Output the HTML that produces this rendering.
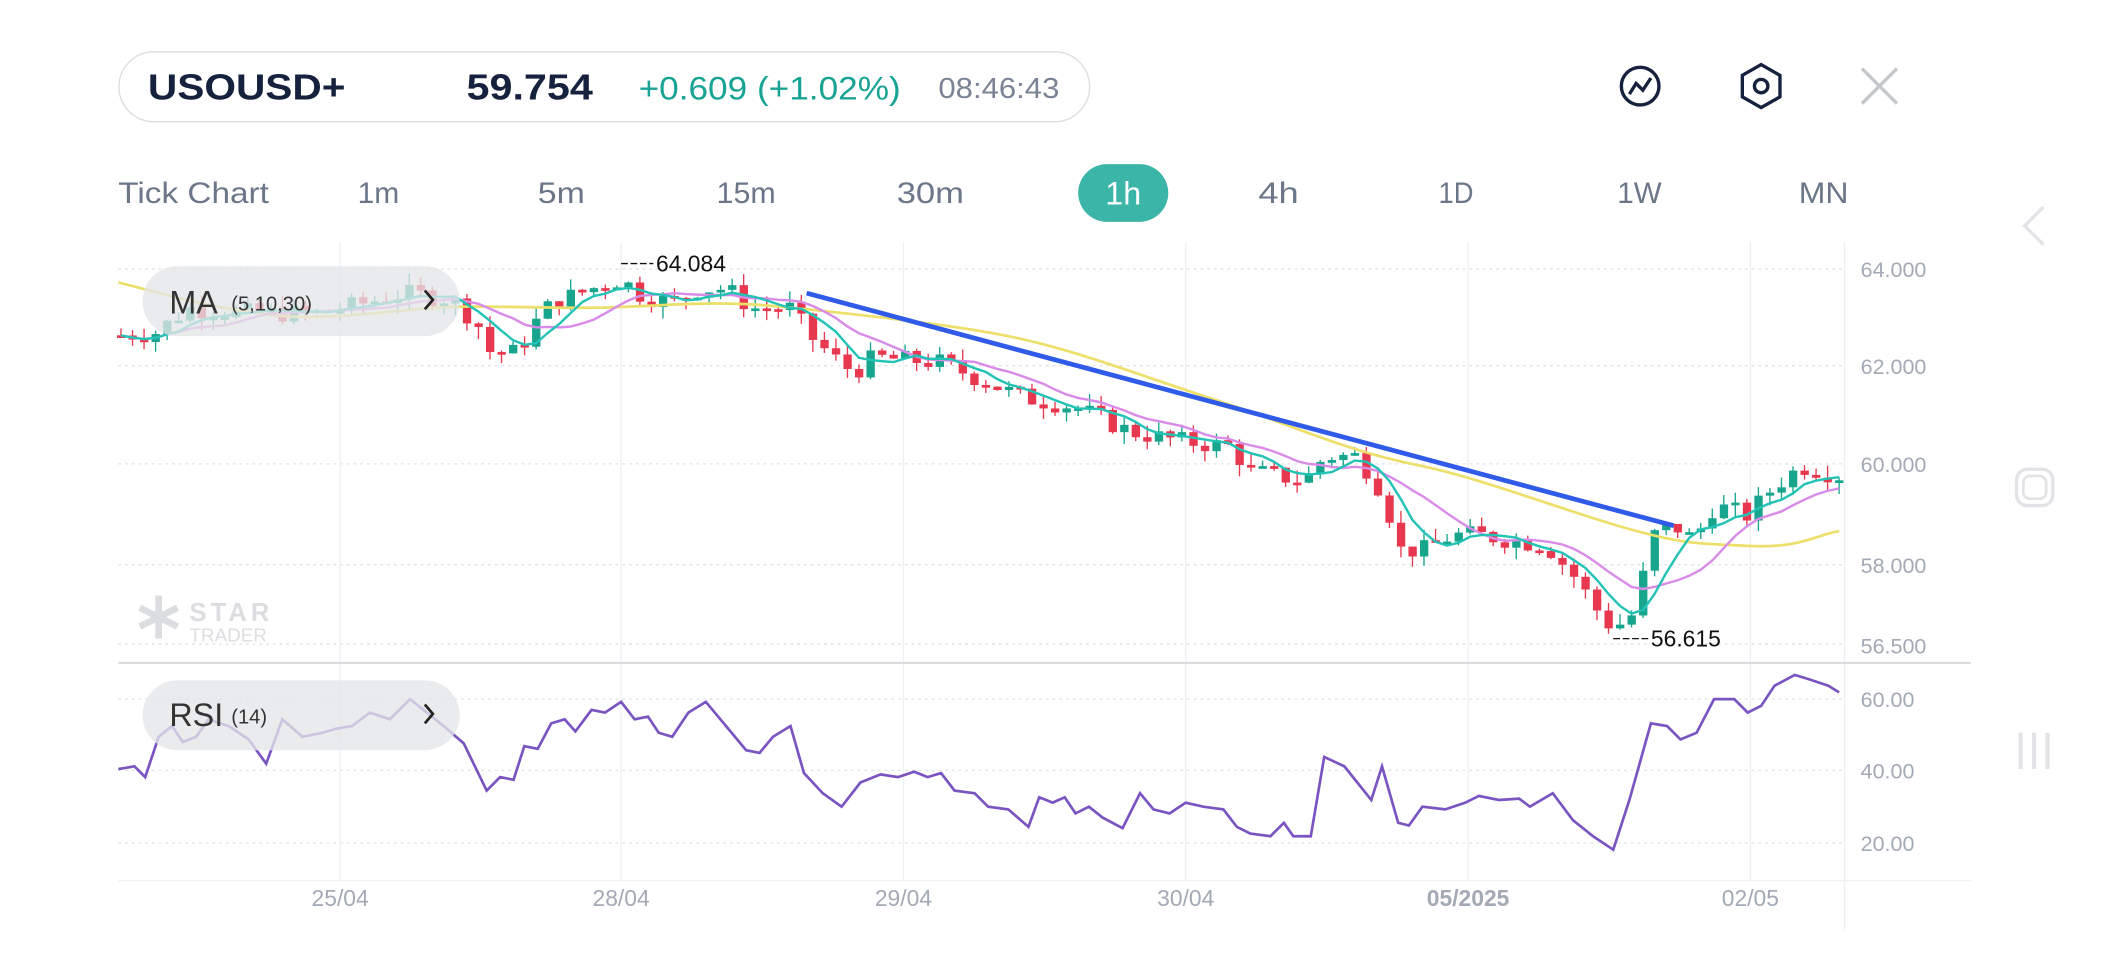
<!DOCTYPE html>
<html><head><meta charset="utf-8"><style>
html,body{margin:0;padding:0;background:#fff;}
svg{display:block;font-family:"Liberation Sans",sans-serif;}
</style></head><body>
<svg id="s" width="2108" height="960" viewBox="0 0 1568 714" xmlns="http://www.w3.org/2000/svg">
<rect width="1568" height="714" fill="#fff"/>
<rect x="88.5" y="38.5" width="722" height="52" rx="26" fill="#fff" stroke="#dcdde1"/>
<text x="110" y="74" font-size="27" font-weight="bold" fill="#16213e" textLength="147" lengthAdjust="spacingAndGlyphs">USOUSD+</text>
<text x="347" y="74" font-size="27" font-weight="bold" fill="#16213e" textLength="94" lengthAdjust="spacingAndGlyphs">59.754</text>
<text x="475" y="74" font-size="24" fill="#19a394" textLength="195" lengthAdjust="spacingAndGlyphs">+0.609 (+1.02%)</text>
<text x="698" y="73" font-size="21" fill="#7b8494" textLength="90" lengthAdjust="spacingAndGlyphs">08:46:43</text>
<circle cx="1220" cy="64" r="14" fill="none" stroke="#16213e" stroke-width="2.5"/>
<polyline points="1212,70 1217,62 1222,67 1228,58" fill="none" stroke="#16213e" stroke-width="2.5"/>
<polygon points="1310,48 1324,56 1324,72 1310,80 1296,72 1296,56" fill="none" stroke="#16213e" stroke-width="2.5"/>
<circle cx="1310" cy="64" r="5" fill="none" stroke="#16213e" stroke-width="2.5"/>
<path d="M1385 51 L1411 77 M1411 51 L1385 77" stroke="#c4c7cc" stroke-width="2.5"/>
<g font-size="22" fill="#6b7689">
<text x="88" y="151" textLength="112" lengthAdjust="spacingAndGlyphs">Tick Chart</text>
<text x="266" y="151" textLength="31" lengthAdjust="spacingAndGlyphs">1m</text>
<text x="400" y="151" textLength="35" lengthAdjust="spacingAndGlyphs">5m</text>
<text x="533" y="151" textLength="44" lengthAdjust="spacingAndGlyphs">15m</text>
<text x="667" y="151" textLength="50" lengthAdjust="spacingAndGlyphs">30m</text>
<text x="936" y="151" textLength="30" lengthAdjust="spacingAndGlyphs">4h</text>
<text x="1070" y="151" textLength="26" lengthAdjust="spacingAndGlyphs">1D</text>
<text x="1203" y="151" textLength="33" lengthAdjust="spacingAndGlyphs">1W</text>
<text x="1338" y="151" textLength="37" lengthAdjust="spacingAndGlyphs">MN</text>
</g>
<rect x="802" y="122" width="67" height="43" rx="21.5" fill="#3ab5a8"/>
<text x="835.5" y="152" font-size="24" fill="#fff" text-anchor="middle">1h</text>
<path d="M1520 154 L1506 168 L1520 182" fill="none" stroke="#e2e3e6" stroke-width="2.5"/>
<rect x="1500" y="349" width="27" height="27" rx="8" fill="none" stroke="#e2e3e6" stroke-width="2.5"/>
<rect x="1505" y="354" width="17" height="17" rx="5" fill="none" stroke="#e2e3e6" stroke-width="2"/>
<path d="M1503 545 V572 M1513 545 V572 M1523 545 V572" stroke="#e2e3e6" stroke-width="3"/>
<g stroke="#dfe1e5" stroke-dasharray="2,3" stroke-width="1">
<line x1="88" x2="1372" y1="200" y2="200"/><line x1="88" x2="1372" y1="272" y2="272"/>
<line x1="88" x2="1372" y1="345" y2="345"/><line x1="88" x2="1372" y1="420" y2="420"/>
<line x1="88" x2="1372" y1="479" y2="479"/>
<line x1="88" x2="1372" y1="520" y2="520"/><line x1="88" x2="1372" y1="573" y2="573"/><line x1="88" x2="1372" y1="627" y2="627"/>
</g>
<g stroke="#eef0f2" stroke-width="1">
<line x1="253" x2="253" y1="180" y2="655"/><line x1="462" x2="462" y1="180" y2="655"/><line x1="672" x2="672" y1="180" y2="655"/>
<line x1="882" x2="882" y1="180" y2="655"/><line x1="1092" x2="1092" y1="180" y2="655"/><line x1="1302" x2="1302" y1="180" y2="655"/>
<line x1="1372" x2="1372" y1="180" y2="692"/>
</g>
<line x1="88" x2="1466" y1="493" y2="493" stroke="#d8d9de" stroke-width="1.5"/>
<line x1="88" x2="1466" y1="655" y2="655" stroke="#eef0f2" stroke-width="1"/>
<g font-size="16" fill="#a3a9b5">
<text x="1384" y="206">64.000</text><text x="1384" y="278">62.000</text><text x="1384" y="351">60.000</text>
<text x="1384" y="426">58.000</text><text x="1384" y="486">56.500</text>
<text x="1384" y="526">60.00</text><text x="1384" y="579">40.00</text><text x="1384" y="633">20.00</text>
</g>
<g font-size="17" fill="#a3a9b5" text-anchor="middle">
<text x="253" y="674">25/04</text><text x="462" y="674">28/04</text><text x="672" y="674">29/04</text>
<text x="882" y="674">30/04</text><text x="1092" y="674" font-weight="bold">05/2025</text><text x="1302" y="674">02/05</text>
</g>
<g opacity="0.35" fill="#9aa0a8">
<path d="M118 443 L118 475 M104 452 L132 466 M104 466 L132 452" stroke="#9aa0a8" stroke-width="5"/>
<text x="141" y="462" font-size="19" font-weight="bold" letter-spacing="3">STAR</text>
<text x="141" y="477" font-size="14">TRADER</text>
</g>
<g id="cand"></g>
<path d="M88 210 C120 218,150 228,200 234 S300 228,350 228 S430 230,470 228 S540 224,580 228 S700 240,750 250 S850 280,900 296 S1000 335,1050 345 S1150 375,1200 390 S1260 404,1300 406 S1350 398,1368 395" fill="none" stroke="#ecdf6a" stroke-width="2"/>
<g id="ma"></g>
<line x1="600" y1="218" x2="1245" y2="391" stroke="#2f5be8" stroke-width="3.5"/>
<polyline id="rsi" fill="none" stroke="#7a55c2" stroke-width="2" points="88,572 100,570 108,578 118,548 128,540 136,552 146,548 155,535 170,540 185,550 198,568 210,535 225,548 240,545 250,542 262,540 275,530 290,535 305,520 330,540 345,553 362,588 372,578 382,580 390,555 400,557 410,538 420,535 428,544 440,528 450,530 462,522 472,535 482,533 490,545 500,548 512,530 525,522 540,540 555,558 565,560 575,548 588,540 598,575 612,590 626,600 640,582 655,576 668,578 680,574 690,578 700,575 710,588 725,590 735,600 750,602 765,615 773,593 783,597 792,593 800,605 810,600 820,608 835,616 848,590 858,602 870,605 882,597 895,600 910,602 920,615 930,620 945,622 955,612 962,622 975,622 985,563 1000,570 1012,585 1020,595 1028,570 1040,612 1048,614 1058,600 1075,602 1090,597 1100,592 1115,595 1130,594 1138,600 1155,590 1170,610 1185,622 1200,632 1212,595 1228,538 1240,540 1250,550 1262,545 1275,520 1290,520 1300,530 1310,525 1320,510 1335,502 1345,505 1360,510 1368,515"/>
<text x="488" y="202" font-size="17" fill="#111">64.084</text>
<line x1="462" x2="486" y1="196" y2="196" stroke="#111" stroke-dasharray="5,2"/>
<text x="1228" y="481" font-size="17" fill="#111">56.615</text>
<line x1="1200" x2="1226" y1="475" y2="475" stroke="#111" stroke-dasharray="5,2"/>
<rect x="106" y="198" width="236" height="52" rx="26" fill="#e4e5e8" opacity="0.78"/>
<text x="126" y="233" font-size="24" fill="#333">MA</text><text x="172" y="231" font-size="15" fill="#333">(5,10,30)</text>
<path d="M316 216 L322 223 L316 230" fill="none" stroke="#222" stroke-width="2"/>
<rect x="106" y="506" width="236" height="52" rx="26" fill="#e4e5e8" opacity="0.78"/>
<text x="126" y="540" font-size="24" fill="#333">RSI</text><text x="172" y="538" font-size="15" fill="#333">(14)</text>
<path d="M316 524 L322 531 L316 538" fill="none" stroke="#222" stroke-width="2"/>
</svg>
<script>
var K=[[88,62.65],[115,62.7],[140,63.2],[190,63.1],[240,63.1],[300,63.5],[335,63.4],[355,62.9],[365,62.3],[385,62.3],[395,62.8],[410,63.3],[440,63.6],[462,63.8],[475,63.5],[500,63.3],[520,63.6],[540,63.6],[560,63.2],[590,63.2],[600,62.7],[620,62.2],[635,61.9],[650,62.2],[700,62.1],[760,61.4],[800,61.2],[840,60.7],[880,60.5],[915,60.4],[930,59.9],[970,59.7],[985,60.2],[1010,60.2],[1030,59.4],[1040,58.3],[1060,58.3],[1080,58.6],[1100,58.6],[1150,58.4],[1170,57.8],[1190,57.0],[1200,56.7],[1215,57.0],[1230,58.6],[1245,58.8],[1260,58.5],[1275,59.2],[1300,59.0],[1320,59.6],[1340,60.0],[1370,59.8]];
function pv(x){for(var i=0;i<K.length-1;i++){if(x<=K[i+1][0]){var t=(x-K[i][0])/(K[i+1][0]-K[i][0]);return K[i][1]+t*(K[i+1][1]-K[i][1]);}}return K[K.length-1][1];}
function Y(p){return 200+(64-p)*36.67;}
var seed=7;function r(){seed=(seed*9301+49297)%233280;return seed/233280;}
var g=document.getElementById('cand'),h='',N=150,xs=[],cl=[],prev=pv(90);
for(var i=0;i<N;i++){var x=90+i*(1278/(N-1));var c=pv(x)+(r()-0.5)*0.4;var o=prev;var hi=Math.max(o,c)+r()*0.25,lo=Math.min(o,c)-r()*0.25;
var col=c>=o?'#17a58e':'#e8384f';var y1=Y(Math.max(o,c)),y2=Y(Math.min(o,c));if(y2-y1<2)y2=y1+2;
h+='<line x1="'+x+'" x2="'+x+'" y1="'+Y(hi)+'" y2="'+Y(lo)+'" stroke="'+col+'" stroke-width="1"/><rect x="'+(x-3)+'" y="'+y1+'" width="6.2" height="'+(y2-y1)+'" fill="'+col+'"/>';
xs.push(x);cl.push(c);prev=c;}
g.innerHTML=h;
function ma(n,color){var p='';for(var i=0;i<N;i++){var s=0,k=0;for(var j=Math.max(0,i-n+1);j<=i;j++){s+=cl[j];k++;}p+=xs[i]+','+Y(s/k)+' ';}return '<polyline points="'+p+'" fill="none" stroke="'+color+'" stroke-width="1.8"/>';}
document.getElementById('ma').innerHTML=ma(10,'#d98be8')+ma(5,'#22c3b5');
</script>
</body></html>
